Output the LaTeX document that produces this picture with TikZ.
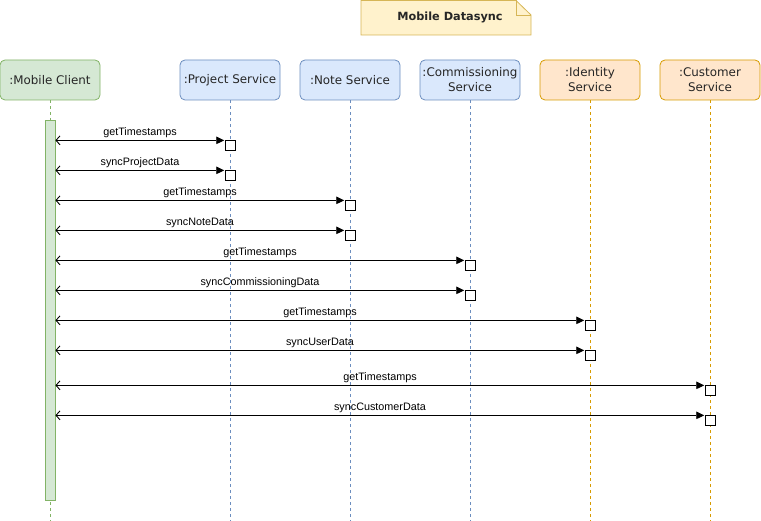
\documentclass[tikz,border=0pt]{standalone}
\usepackage{fontspec}
\setmainfont{Liberation Sans}
\newfontfamily\hdrfont{DejaVu Sans}
\usetikzlibrary{arrows.meta,shapes.misc}
\definecolor{gfill}{HTML}{D5E8D4}\definecolor{gline}{HTML}{82B366}
\definecolor{bfill}{HTML}{DAE8FC}\definecolor{bline}{HTML}{6C8EBF}
\definecolor{ofill}{HTML}{FFE6CC}\definecolor{oline}{HTML}{D79B00}
\definecolor{nfill}{HTML}{FFF2CC}\definecolor{nline}{HTML}{D6B656}
\begin{document}
\begin{tikzpicture}[x=1pt,y=-1pt,
  hdr/.style={draw, rounded corners=5pt, minimum width=100pt, minimum height=40pt, inner sep=1pt,
    align=center, font=\hdrfont\fontsize{11.9}{15}\selectfont, text=black!85, line width=0.8pt},
  green/.style={fill=gfill, draw=gline},
  blue/.style={fill=bfill, draw=bline},
  orange/.style={fill=ofill, draw=oline},
  life/.style={dashed, dash pattern=on 3pt off 3pt, line width=0.8pt},
  actbox/.style={draw, fill=white, line width=0.9pt, minimum size=10pt, inner sep=0pt},
  msg/.style={line width=0.9pt, {Straight Barb[length=4pt,width=9pt,line width=0.9pt]}-{Triangle[length=8pt,width=7.5pt]}, shorten >=0.3pt},
  lbl/.style={font=\fontsize{10.8}{12}\selectfont, above=0pt, inner sep=2pt}
]
\useasboundingbox (0,0) rectangle (761,521);

% title note
\fill[nfill] (361,0.5) -- (516,0.5) -- (531,15) -- (531,35) -- (361,35) -- cycle;
\draw[nline, line width=0.8pt] (361,0.5) -- (516,0.5) -- (531,15) -- (531,35) -- (361,35) -- cycle;
\draw[nline, line width=0.8pt] (516,0.5) -- (516,15) -- (531,15);
\node[font=\hdrfont\bfseries\fontsize{11.3}{13}\selectfont, text=black!85] (title) at (450,17) {Mobile Datasync};

% headers
\node[hdr,green] (mc) at (50,80) {:Mobile Client};
\node[hdr,blue] (ps) at (230,80) {:Project Service};
\node[hdr,blue] (ns) at (350,80) {:Note Service};
\node[hdr,blue] (cs) at (470,80) {:Commissioning\\Service};
\node[hdr,orange] (is) at (590,80) {:Identity\\Service};
\node[hdr,orange] (cu) at (710,80) {:Customer\\Service};

% lifeline ends
\coordinate (mcE) at (50,521);
\coordinate (psE) at (230,521);
\coordinate (nsE) at (350,521);
\coordinate (csE) at (470,521);
\coordinate (isE) at (590,521);
\coordinate (cuE) at (710,521);
\draw[life, gline] (mc.south) -- (mcE);
\draw[life, bline] (ps.south) -- (psE);
\draw[life, bline] (ns.south) -- (nsE);
\draw[life, bline] (cs.south) -- (csE);
\draw[life, oline] (is.south) -- (isE);
\draw[life, oline] (cu.south) -- (cuE);

% activation bar
\node[draw=gline, fill=gfill, line width=0.8pt, minimum width=10pt, minimum height=380pt, inner sep=0pt] (bar) at (50,310) {};

% message boxes
\node[actbox] (b1) at (230,145.5) {};
\node[actbox] (b2) at (230,175.5) {};
\node[actbox] (b3) at (350,205.5) {};
\node[actbox] (b4) at (350,235.5) {};
\node[actbox] (b5) at (470,265.5) {};
\node[actbox] (b6) at (470,295.5) {};
\node[actbox] (b7) at (590,325.5) {};
\node[actbox] (b8) at (590,355.5) {};
\node[actbox] (b9) at (710,390.5) {};
\node[actbox] (b10) at (710,420.5) {};

\foreach \b/\t in {b1/getTimestamps, b2/syncProjectData, b3/getTimestamps, b4/syncNoteData,
  b5/getTimestamps, b6/syncCommissioningData, b7/getTimestamps, b8/syncUserData,
  b9/getTimestamps, b10/syncCustomerData}{
  \draw[msg] ([yshift=-0.3pt]\b.north west -| bar.east) -- ([yshift=-0.3pt]\b.north west) node[midway, lbl] {\t};
}
\end{tikzpicture}
\end{document}
